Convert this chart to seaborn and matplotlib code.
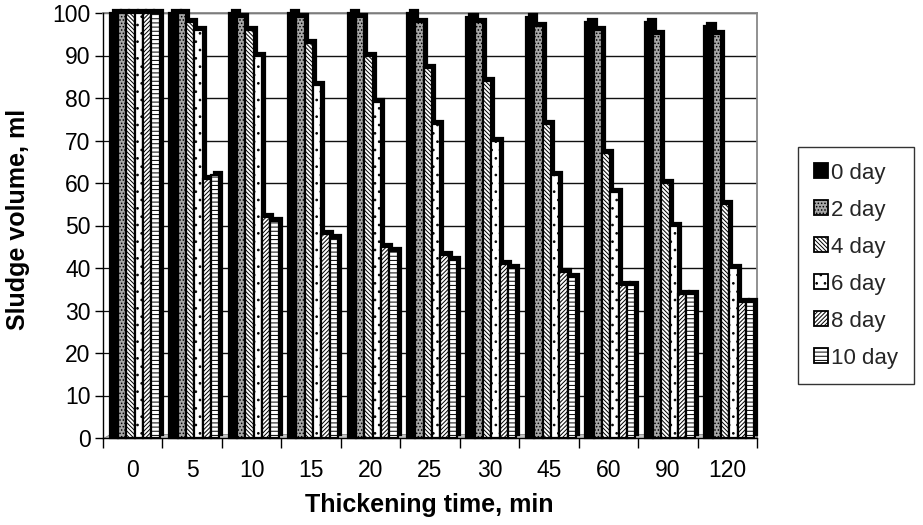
import matplotlib
matplotlib.use("Agg")
import matplotlib.pyplot as plt
import pandas as pd
import seaborn as sns
from matplotlib.patches import Rectangle, Patch, Polygon
from matplotlib.transforms import ScaledTranslation

# Thickening time categories (min) and series (sludge age)
times = ["0", "5", "10", "15", "20", "25", "30", "45", "60", "90", "120"]
days = ["0 day", "2 day", "4 day", "6 day", "8 day", "10 day"]

# Settled sludge volume (ml) for each series
day0 = [100, 100, 100, 100, 100, 100, 99, 99, 98, 98, 97]
day2 = [100, 100, 99, 99, 99, 98, 98, 97, 96, 95, 95]
day4 = [100, 98, 96, 93, 90, 87, 84, 74, 67, 60, 55]
day6 = [100, 96, 90, 83, 79, 74, 70, 62, 58, 50, 40]
day8 = [100, 61, 52, 48, 45, 43, 41, 39, 36, 34, 32]
day10 = [100, 62, 51, 47, 44, 42, 40, 38, 36, 34, 32]

series = [day0, day2, day4, day6, day8, day10]
df = pd.DataFrame(
    [(t, d, v) for d, vals in zip(days, series) for t, v in zip(times, vals)],
    columns=["time", "day", "volume"],
)

# Fill / hatch styling per series
faces = ["black", "#a8a8a8", "white", "white", "white", "white"]
hatches = [None, ".....", "\\" * 8, "..", "/" * 8, "----"]

sns.set_theme(style="white")
plt.rcParams["font.family"] = ["Liberation Sans", "DejaVu Sans"]
plt.rcParams["hatch.linewidth"] = 0.7
plt.rcParams["hatch.color"] = "black"

W, H = 923, 525
fig = plt.figure(figsize=(W / 100, H / 100), dpi=100)
ax = fig.add_axes([103 / W, 1 - 438 / H, (757 - 103) / W, (438 - 13) / H])

sns.barplot(
    data=df, x="time", y="volume", hue="day", order=times, hue_order=days,
    palette=dict(zip(days, faces)), saturation=1, width=0.84, legend=False,
    edgecolor="black", linewidth=1.6, ax=ax,
)

px = lambda n: n / 100  # pixels -> inches at 100 dpi

# Columns sit slightly back from the front axis; depth slab offset up/right
shift = ScaledTranslation(px(2), 0, fig.dpi_scale_trans)
depth = ScaledTranslation(px(5), px(3), fig.dpi_scale_trans)
for i, cont in enumerate(ax.containers):
    for bar in cont:
        bar.set_facecolor(faces[i])
        bar.set_edgecolor("black")
        if hatches[i]:
            bar.set_hatch(hatches[i])
        bar.set_transform(ax.transData + shift)
        bar.set_zorder(3 + 2 * i + 1)
        bar.set_clip_on(False)
        slab = Rectangle(
            (bar.get_x(), bar.get_y()), bar.get_width(), bar.get_height(),
            facecolor="black", edgecolor="black", linewidth=1.6,
            transform=ax.transData + depth, zorder=3 + 2 * i, clip_on=False,
        )
        ax.add_patch(slab)

ax.set_ylim(0, 100)
ax.set_xlim(-0.5, len(times) - 0.5)
yt = list(range(0, 101, 10))
ax.set_yticks(yt)

# Back-wall gridlines, with short connectors from the side wall
wall = 7 / 654
ywall = ax.get_yaxis_transform()
ax.hlines(yt[1:], wall, 1, transform=ywall, colors="#111111", linewidth=1.0, zorder=1)
for y in yt[1:]:
    ax.plot([0, wall], [y, y], transform=ywall, color="#111111", linewidth=0.9, zorder=1)
ax.axvline(wall, color="#999999", linewidth=1.2, zorder=1)

# Light grey floor of the plot area
floor = Polygon([(0, 0), (1, 0), (1, 1.0), (wall, 1.0)], closed=True,
                transform=ywall, facecolor="#c4c4c4", edgecolor="#888888",
                linewidth=0.6, zorder=1.5)
ax.add_patch(floor)

# Category boundary ticks below the axis
ax.set_xticks([i - 0.5 for i in range(len(times) + 1)], minor=True)
ax.tick_params(axis="x", which="minor", length=7, width=1, color="black", direction="out", bottom=True)
ax.tick_params(axis="x", which="major", length=0, labelsize=16.5, pad=15, colors="black")
ax.tick_params(axis="y", length=6, width=1, labelsize=16.5, colors="black", left=True,
               direction="out", pad=3)

for side in ["left", "bottom"]:
    ax.spines[side].set_color("black")
    ax.spines[side].set_linewidth(1.0)
    ax.spines[side].set_zorder(20)
for side in ["top", "right"]:
    ax.spines[side].set_color("#888888")
    ax.spines[side].set_linewidth(1.3)

ax.set_xlabel("")
ax.set_ylabel("")
fig.text(429 / W, 1 - 505 / H, "Thickening time, min", fontsize=18, fontweight="bold",
         ha="center", va="center", color="black")
fig.text(18 / W, 1 - 219 / H, "Sludge volume, ml", fontsize=18, fontweight="bold",
         ha="center", va="center", rotation=90, color="black")

handles = [
    Patch(facecolor=f, edgecolor="black", hatch=h, linewidth=1.3, label=dl)
    for f, h, dl in zip(faces, hatches, days)
]
leg = fig.legend(
    handles=handles, loc="upper left", bbox_to_anchor=(798 / W, 1 - 147 / H),
    frameon=True, fancybox=False, shadow=False, fontsize=16,
    handlelength=0.65, handleheight=0.65, handletextpad=0.15,
    labelspacing=0.72, borderpad=0.7, borderaxespad=0,
)
leg.get_frame().set_edgecolor("black")
leg.get_frame().set_linewidth(1.0)

fig.savefig("out.png", dpi=100, facecolor="white")
